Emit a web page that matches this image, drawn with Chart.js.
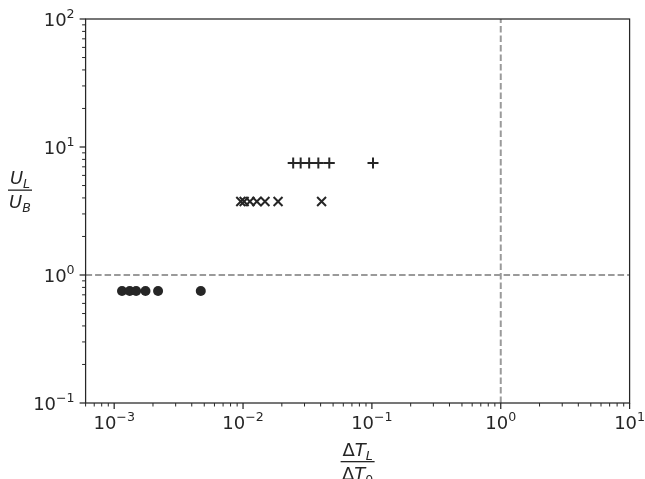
<!DOCTYPE html>
<html>
<head>
<meta charset="utf-8">
<script src="https://cdn.jsdelivr.net/npm/chart.js@4.4.0/dist/chart.umd.min.js"></script>
<style>
  html, body { margin: 0; padding: 0; background: #fff; }
  #wrap { width: 645px; height: 479px; }
</style>
</head>
<body>
<div id="wrap"><canvas id="chart" width="645" height="479"></canvas></div>
<script>
// values (log-log)
const circleX = [0.00115, 0.00132, 0.00148, 0.00175, 0.00219, 0.0047];
const circleY = [0.75, 0.75, 0.75, 0.75, 0.75, 0.75];
const crossX = [0.0096, 0.0102, 0.0113, 0.0128, 0.0148, 0.0187, 0.0407];
const crossY = [3.75, 3.75, 3.75, 3.75, 3.75, 3.75, 3.75];
const plusX = [0.0245, 0.028, 0.0326, 0.0384, 0.0467, 0.102];
const plusY = [7.5, 7.5, 7.5, 7.5, 7.5, 7.5];

const xRange = [6e-4, 10];
const yRange = [0.1, 100];
const xTickExps = [-3, -2, -1, 0, 1];
const yTickExps = [-1, 0, 1, 2];
const refX = 1;
const refY = 1;

const INK = '#262626';
const FONT = '"DejaVu Sans", sans-serif';

const toPoints = (xs, ys) => xs.map((x, i) => ({ x: x, y: ys[i] }));

// draws a row of [text, size, italic, dy] pieces, returns width
function drawRuns(ctx, runs, x, y, align) {
  let w = 0;
  runs.forEach(r => {
    ctx.font = (r[2] ? 'italic ' : '') + r[1] + 'px ' + FONT;
    r.w = ctx.measureText(r[0]).width;
    w += r.w;
  });
  let cx = align === 'right' ? x - w : align === 'center' ? x - w / 2 : x;
  runs.forEach(r => {
    ctx.font = (r[2] ? 'italic ' : '') + r[1] + 'px ' + FONT;
    ctx.fillText(r[0], cx, y + r[3]);
    cx += r.w;
  });
  return w;
}

function powLabel(e) {
  const exp = e < 0 ? '\u2212' + Math.abs(e) : String(e);
  return [['10', 18, false, 0], [exp, 12.6, false, -8.5]];
}

const axesPlugin = {
  id: 'axesPlugin',
  afterDraw(chart) {
    const ctx = chart.ctx;
    const a = chart.chartArea;
    const xs = chart.scales.x, ys = chart.scales.y;
    ctx.save();
    ctx.fillStyle = INK;
    ctx.strokeStyle = INK;
    ctx.textBaseline = 'alphabetic';

    // frame
    ctx.lineWidth = 1.25;
    ctx.strokeRect(a.left, a.top, a.right - a.left, a.bottom - a.top);

    // ticks
    const tick = (isX, v, major) => {
      const len = major ? 6 : 3.5;
      ctx.lineWidth = major ? 1.25 : 1;
      ctx.beginPath();
      if (isX) {
        const p = xs.getPixelForValue(v);
        ctx.moveTo(p, a.bottom); ctx.lineTo(p, a.bottom + len);
      } else {
        const p = ys.getPixelForValue(v);
        ctx.moveTo(a.left, p); ctx.lineTo(a.left - len, p);
      }
      ctx.stroke();
    };
    for (let e = -4; e <= 2; e++) {
      for (let k = 1; k <= 9; k++) {
        const v = k * Math.pow(10, e);
        if (v >= xRange[0] * 0.999 && v <= xRange[1] * 1.001) tick(true, v, k === 1);
        if (v >= yRange[0] * 0.999 && v <= yRange[1] * 1.001) tick(false, v, k === 1);
      }
    }

    // tick labels
    xTickExps.forEach(e => {
      drawRuns(ctx, powLabel(e), xs.getPixelForValue(Math.pow(10, e)), 429, 'center');
    });
    yTickExps.forEach(e => {
      drawRuns(ctx, powLabel(e), a.left - 11, ys.getPixelForValue(Math.pow(10, e)) + 7, 'right');
    });

    // x axis label: fraction
    const cxl = (a.left + a.right) / 2;
    drawRuns(ctx, [['\u0394', 18, false, 0], ['T', 18, true, 0], ['L', 12.6, true, 3.5]], cxl, 456, 'center');
    ctx.fillRect(cxl - 17, 461, 34, 1.3);
    drawRuns(ctx, [['\u0394', 18, false, 0], ['T', 18, true, 0], ['0', 12.6, false, 3.5]], cxl, 480, 'center');

    // y axis label: fraction
    const cyl = 20;
    drawRuns(ctx, [['U', 18, true, 0], ['L', 12.6, true, 3.5]], cyl, 184, 'center');
    ctx.fillRect(cyl - 12, 189.5, 24, 1.3);
    drawRuns(ctx, [['U', 18, true, 0], ['B', 12.6, true, 3.5]], cyl, 208, 'center');

    ctx.restore();
  }
};

const refStyle = {
  showLine: true,
  borderColor: '#9a9a9a',
  borderWidth: 2,
  borderDash: [6.5, 3],
  pointRadius: 0,
  fill: false
};

new Chart(document.getElementById('chart').getContext('2d'), {
  type: 'scatter',
  data: {
    datasets: [
      Object.assign({ data: [{ x: xRange[0], y: refY }, { x: xRange[1], y: refY }] }, refStyle),
      Object.assign({ data: [{ x: refX, y: yRange[0] }, { x: refX, y: yRange[1] }] }, refStyle),
      {
        data: toPoints(circleX, circleY),
        pointStyle: 'circle',
        pointRadius: 5,
        backgroundColor: INK,
        borderColor: INK,
        borderWidth: 0
      },
      {
        data: toPoints(crossX, crossY),
        pointStyle: 'crossRot',
        pointRadius: 6.3,
        borderColor: INK,
        borderWidth: 2
      },
      {
        data: toPoints(plusX, plusY),
        pointStyle: 'cross',
        pointRadius: 5.5,
        borderColor: INK,
        borderWidth: 2
      }
    ]
  },
  options: {
    responsive: false,
    animation: false,
    layout: { padding: { left: 85.6, top: 19, right: 15.4, bottom: 76 } },
    plugins: { legend: { display: false }, tooltip: { enabled: false } },
    scales: {
      x: { type: 'logarithmic', min: xRange[0], max: xRange[1], display: false },
      y: { type: 'logarithmic', min: yRange[0], max: yRange[1], display: false }
    }
  },
  plugins: [axesPlugin]
});
</script>
</body>
</html>
